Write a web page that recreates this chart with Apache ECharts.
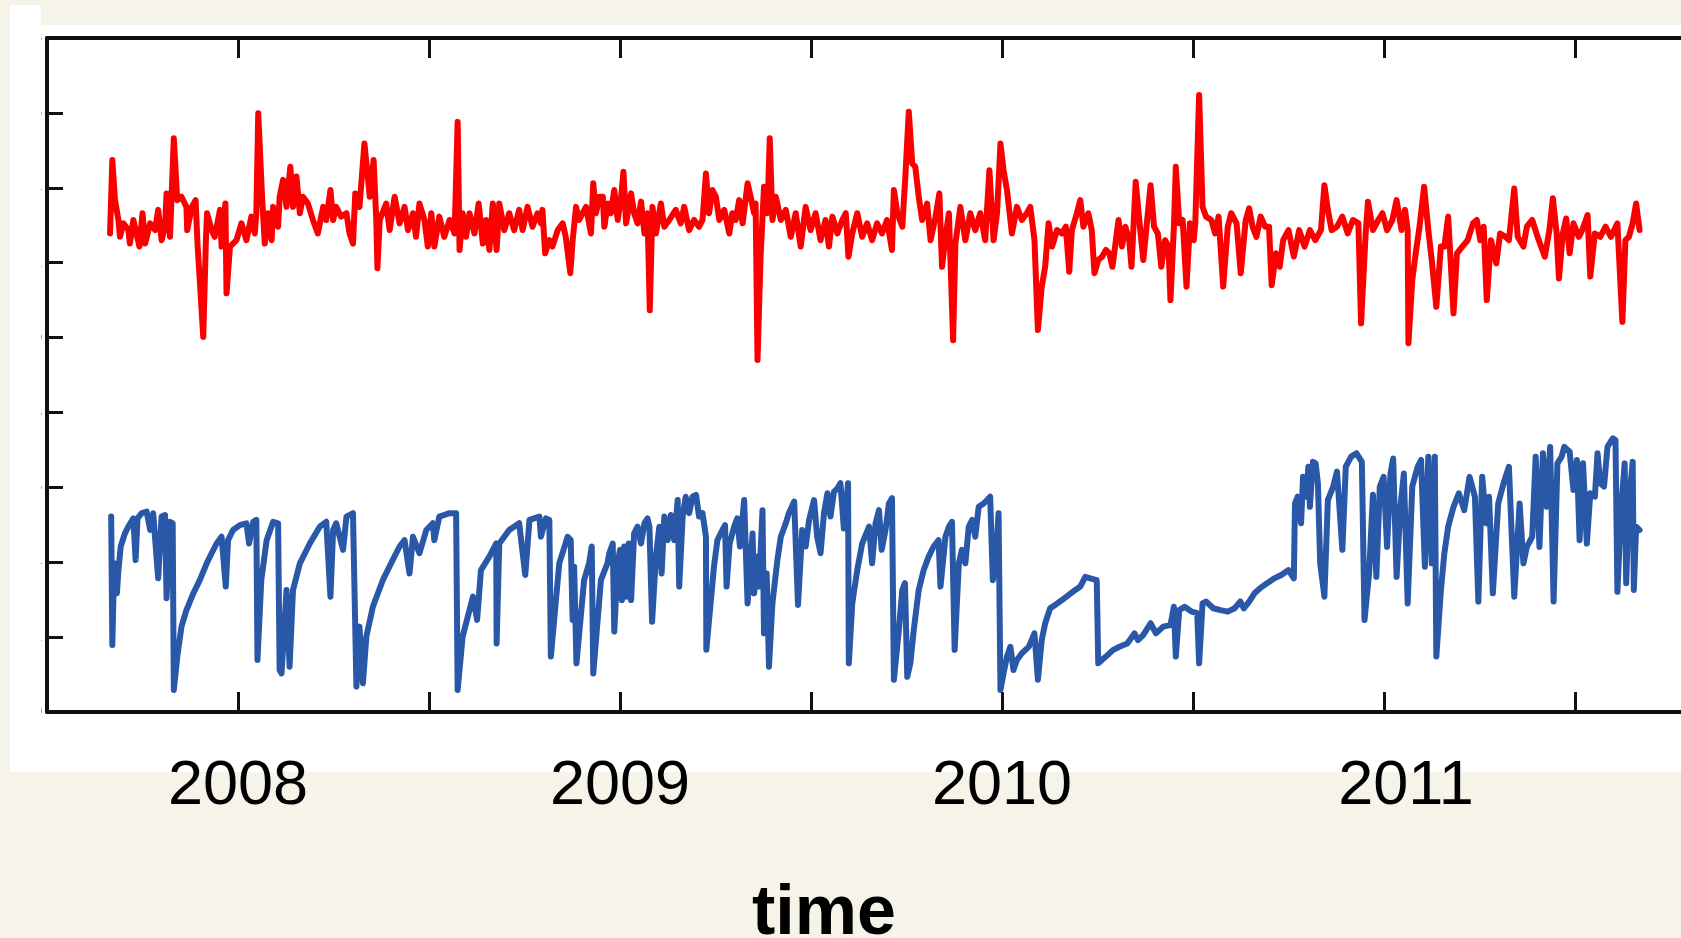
<!DOCTYPE html>
<html>
<head>
<meta charset="utf-8">
<title>time</title>
<script src="https://cdn.jsdelivr.net/npm/echarts@6/dist/echarts.min.js"></script>
<style>
  html, body { margin: 0; padding: 0; width: 1681px; height: 938px; overflow: hidden; background: #f6f3e8; }
  .panel { position: absolute; background: #fff; }
  #chart { position: absolute; left: 0; top: 0; width: 1681px; height: 938px; }
</style>
</head>
<body>
<div class="panel" style="left:10px;top:5px;width:31px;height:767px"></div>
<div class="panel" style="left:10px;top:25px;width:1671px;height:747px"></div>
<div id="chart"></div>
<script>
// year labels shown under the axis (half-year ticks carry no label)
var yearLabels = ['2008', '2009', '2010', '2011'];
var axisTitle = 'time';

// upper trace (red), [decimal year, value]
var redData = [
  [2007.665,12.78],[2007.671,14.74],[2007.678,13.67],[2007.687,13.14],[2007.691,12.69],[2007.700,13.05],[2007.713,12.87],[2007.717,12.51],
  [2007.726,13.14],[2007.742,12.43],[2007.750,13.32],[2007.757,12.51],[2007.770,13.05],[2007.783,12.87],[2007.791,13.41],[2007.800,12.60],
  [2007.809,12.96],[2007.813,13.85],[2007.822,12.69],[2007.832,15.32],[2007.841,13.67],[2007.852,13.76],[2007.865,13.49],[2007.867,12.87],
  [2007.879,13.49],[2007.889,13.67],[2007.894,12.51],[2007.909,10.02],[2007.916,12.60],[2007.919,13.32],[2007.931,12.87],[2007.939,12.69],
  [2007.953,13.41],[2007.957,12.43],[2007.967,13.58],[2007.970,11.18],[2007.979,12.43],[2007.996,12.60],[2008.009,13.05],[2008.022,12.60],
  [2008.035,13.23],[2008.044,12.78],[2008.048,13.32],[2008.053,15.99],[2008.063,13.76],[2008.070,12.51],[2008.079,13.32],[2008.088,12.60],
  [2008.092,13.49],[2008.105,12.96],[2008.109,13.76],[2008.118,14.21],[2008.127,13.49],[2008.137,14.56],[2008.144,13.49],[2008.153,14.30],
  [2008.162,13.32],[2008.170,13.76],[2008.183,13.58],[2008.196,13.14],[2008.209,12.78],[2008.223,13.49],[2008.231,13.14],[2008.242,13.94],
  [2008.249,13.14],[2008.257,13.49],[2008.270,13.23],[2008.284,13.32],[2008.292,12.78],[2008.301,12.51],[2008.307,13.85],[2008.318,13.49],
  [2008.331,15.18],[2008.345,13.76],[2008.355,14.74],[2008.362,13.14],[2008.365,11.85],[2008.371,13.14],[2008.388,13.58],[2008.397,12.87],
  [2008.410,13.76],[2008.423,13.05],[2008.436,13.49],[2008.445,12.87],[2008.458,13.32],[2008.466,12.69],[2008.475,13.58],[2008.488,13.14],
  [2008.497,12.43],[2008.506,13.32],[2008.514,12.43],[2008.527,13.23],[2008.540,12.69],[2008.554,13.14],[2008.567,12.78],[2008.575,15.76],
  [2008.580,12.34],[2008.588,13.32],[2008.597,12.69],[2008.606,13.32],[2008.619,12.78],[2008.630,13.58],[2008.641,12.51],[2008.649,13.14],
  [2008.658,12.34],[2008.667,13.58],[2008.677,12.34],[2008.684,13.58],[2008.697,12.87],[2008.710,13.32],[2008.723,12.87],[2008.736,13.41],
  [2008.745,12.87],[2008.758,13.49],[2008.771,12.96],[2008.784,13.32],[2008.793,13.05],[2008.797,13.41],[2008.804,12.25],[2008.815,12.60],
  [2008.823,12.43],[2008.837,12.87],[2008.850,13.05],[2008.858,12.69],[2008.870,11.72],[2008.876,12.60],[2008.885,13.49],[2008.893,13.14],
  [2008.911,13.49],[2008.924,12.78],[2008.930,14.12],[2008.937,13.32],[2008.946,13.76],[2008.955,13.76],[2008.959,12.96],[2008.968,13.58],
  [2008.976,13.32],[2008.985,13.94],[2008.994,13.14],[2009.003,13.76],[2009.009,14.43],[2009.016,13.05],[2009.029,13.85],[2009.037,13.32],
  [2009.046,13.05],[2009.055,13.63],[2009.064,12.78],[2009.072,13.32],[2009.078,10.73],[2009.085,13.49],[2009.094,12.78],[2009.107,13.58],
  [2009.116,12.96],[2009.129,13.14],[2009.146,13.41],[2009.159,13.05],[2009.168,13.49],[2009.181,12.87],[2009.194,13.14],[2009.207,12.96],
  [2009.216,13.14],[2009.225,14.38],[2009.233,13.32],[2009.242,13.94],[2009.251,13.76],[2009.260,13.14],[2009.273,13.41],[2009.286,12.78],
  [2009.294,13.32],[2009.303,13.14],[2009.312,13.67],[2009.321,13.05],[2009.334,14.12],[2009.342,13.76],[2009.351,13.32],[2009.355,13.58],
  [2009.360,9.40],[2009.368,12.16],[2009.377,14.03],[2009.386,13.32],[2009.392,15.32],[2009.399,13.14],[2009.408,13.76],[2009.421,13.14],
  [2009.434,13.41],[2009.447,12.69],[2009.460,13.32],[2009.473,12.43],[2009.486,13.49],[2009.499,12.87],[2009.512,13.32],[2009.525,12.60],
  [2009.538,13.14],[2009.547,12.43],[2009.556,13.23],[2009.569,12.78],[2009.582,13.14],[2009.591,13.32],[2009.598,12.16],[2009.608,12.78],
  [2009.621,13.32],[2009.634,12.69],[2009.647,13.05],[2009.660,12.60],[2009.673,13.05],[2009.686,12.78],[2009.699,13.14],[2009.712,12.34],
  [2009.717,13.94],[2009.726,13.32],[2009.739,12.96],[2009.747,14.30],[2009.756,16.03],[2009.765,14.65],[2009.773,14.56],[2009.782,13.76],
  [2009.791,13.14],[2009.804,13.58],[2009.813,12.60],[2009.826,13.23],[2009.836,13.85],[2009.843,11.89],[2009.852,12.69],[2009.861,13.32],
  [2009.872,9.93],[2009.878,12.51],[2009.891,13.49],[2009.904,12.60],[2009.917,13.32],[2009.930,12.87],[2009.943,13.32],[2009.956,12.60],
  [2009.967,14.47],[2009.978,12.60],[2009.987,13.32],[2009.996,15.18],[2010.004,14.47],[2010.013,13.94],[2010.026,12.78],[2010.039,13.49],
  [2010.052,13.14],[2010.065,13.32],[2010.074,13.49],[2010.085,12.60],[2010.094,10.20],[2010.104,11.36],[2010.113,11.89],[2010.122,13.05],
  [2010.131,12.43],[2010.144,12.87],[2010.157,12.78],[2010.167,12.96],[2010.176,11.76],[2010.183,12.87],[2010.196,13.32],[2010.205,13.67],
  [2010.213,12.96],[2010.226,13.32],[2010.235,12.87],[2010.242,11.72],[2010.252,12.07],[2010.262,12.16],[2010.272,12.34],[2010.281,12.25],
  [2010.289,11.89],[2010.295,12.34],[2010.305,13.14],[2010.314,12.43],[2010.323,12.96],[2010.333,12.60],[2010.339,11.89],[2010.350,14.16],
  [2010.361,12.96],[2010.370,12.07],[2010.380,13.14],[2010.389,14.07],[2010.398,12.96],[2010.408,12.78],[2010.417,11.89],[2010.427,12.60],
  [2010.436,12.43],[2010.441,11.00],[2010.450,12.96],[2010.455,14.56],[2010.464,13.05],[2010.473,13.14],[2010.483,11.36],[2010.492,13.05],
  [2010.502,12.60],[2010.506,13.05],[2010.516,16.48],[2010.525,13.49],[2010.534,13.23],[2010.548,13.14],[2010.558,12.78],[2010.567,13.23],
  [2010.579,11.36],[2010.591,12.96],[2010.600,13.32],[2010.614,13.05],[2010.625,11.72],[2010.638,13.14],[2010.647,13.45],[2010.656,12.96],
  [2010.666,12.69],[2010.677,13.23],[2010.689,12.96],[2010.699,12.96],[2010.706,11.40],[2010.717,12.25],[2010.727,11.89],[2010.736,12.60],
  [2010.750,12.87],[2010.764,12.16],[2010.778,12.87],[2010.792,12.43],[2010.806,12.87],[2010.820,12.60],[2010.835,12.87],[2010.844,14.07],
  [2010.853,13.41],[2010.863,12.87],[2010.877,12.96],[2010.891,13.23],[2010.905,12.78],[2010.919,13.14],[2010.933,13.05],[2010.940,10.38],
  [2010.952,12.78],[2010.958,13.63],[2010.971,12.87],[2010.985,13.14],[2010.996,13.32],[2011.008,12.87],[2011.022,13.14],[2011.033,13.67],
  [2011.046,12.87],[2011.055,13.41],[2011.062,12.87],[2011.064,9.85],[2011.074,11.54],[2011.083,12.25],[2011.093,12.96],[2011.105,14.03],
  [2011.116,12.87],[2011.125,12.07],[2011.137,10.82],[2011.149,12.43],[2011.158,12.43],[2011.168,13.23],[2011.182,10.65],[2011.191,12.25],
  [2011.205,12.43],[2011.219,12.60],[2011.233,13.05],[2011.243,13.14],[2011.252,12.60],[2011.261,12.96],[2011.269,11.00],[2011.280,12.60],
  [2011.294,11.98],[2011.304,12.78],[2011.318,12.69],[2011.327,12.60],[2011.341,13.98],[2011.350,12.69],[2011.365,12.43],[2011.374,12.96],
  [2011.388,13.14],[2011.402,12.69],[2011.421,12.16],[2011.433,12.87],[2011.442,13.72],[2011.452,12.78],[2011.458,11.58],[2011.468,12.78],
  [2011.477,13.18],[2011.486,12.25],[2011.496,13.05],[2011.510,12.69],[2011.519,12.87],[2011.533,13.27],[2011.540,11.63],[2011.552,12.78],
  [2011.566,12.69],[2011.580,12.96],[2011.594,12.69],[2011.611,13.05],[2011.624,10.42],[2011.632,12.60],[2011.641,12.69],[2011.651,13.05],
  [2011.660,13.58],[2011.669,12.87]
];

// lower trace (blue), [decimal year, value]
var blueData = [
  [2007.668,5.22],[2007.671,1.79],[2007.676,3.97],[2007.683,3.17],[2007.687,3.79],[2007.693,4.42],[2007.704,4.77],[2007.713,4.95],
  [2007.726,5.17],[2007.732,4.06],[2007.737,5.17],[2007.748,5.31],[2007.761,5.35],[2007.770,4.86],[2007.778,5.31],[2007.783,5.31],
  [2007.791,3.57],[2007.800,5.22],[2007.809,5.26],[2007.813,3.04],[2007.822,5.08],[2007.829,5.04],[2007.832,0.59],[2007.841,1.48],
  [2007.852,2.28],[2007.865,2.72],[2007.883,3.17],[2007.900,3.52],[2007.918,3.97],[2007.931,4.24],[2007.944,4.50],[2007.957,4.68],
  [2007.968,3.35],[2007.974,4.59],[2007.987,4.86],[2008.005,4.99],[2008.022,5.04],[2008.029,4.50],[2008.040,5.08],[2008.048,5.13],
  [2008.051,1.39],[2008.061,3.52],[2008.075,4.59],[2008.092,5.08],[2008.105,5.04],[2008.109,1.12],[2008.114,1.03],[2008.127,3.26],
  [2008.135,1.21],[2008.144,3.26],[2008.162,3.97],[2008.188,4.50],[2008.214,4.95],[2008.231,5.08],[2008.242,3.08],[2008.249,4.86],
  [2008.257,5.04],[2008.275,4.33],[2008.284,5.22],[2008.301,5.31],[2008.310,0.68],[2008.318,2.28],[2008.327,0.77],[2008.336,2.01],
  [2008.353,2.81],[2008.379,3.52],[2008.405,4.06],[2008.423,4.42],[2008.436,4.59],[2008.449,3.70],[2008.458,4.68],[2008.475,4.24],
  [2008.493,4.86],[2008.510,5.04],[2008.514,4.59],[2008.527,5.22],[2008.554,5.31],[2008.571,5.31],[2008.575,0.59],[2008.588,2.01],
  [2008.615,3.08],[2008.626,2.46],[2008.636,3.79],[2008.658,4.15],[2008.676,4.50],[2008.677,1.83],[2008.684,4.50],[2008.710,4.86],
  [2008.736,5.04],[2008.752,3.66],[2008.763,5.13],[2008.789,5.22],[2008.793,4.68],[2008.806,5.17],[2008.815,5.13],[2008.819,1.48],
  [2008.841,3.97],[2008.863,4.68],[2008.871,4.59],[2008.876,2.46],[2008.880,3.88],[2008.886,1.30],[2008.906,3.52],[2008.919,3.97],
  [2008.926,4.42],[2008.930,1.03],[2008.950,3.52],[2008.967,3.97],[2008.972,4.24],[2008.981,4.50],[2008.985,2.15],[2008.994,3.97],
  [2009.000,4.33],[2009.005,2.99],[2009.011,4.42],[2009.017,3.08],[2009.023,4.50],[2009.029,2.99],[2009.037,4.77],[2009.046,4.95],
  [2009.055,4.50],[2009.064,5.04],[2009.072,5.17],[2009.077,4.95],[2009.084,2.41],[2009.094,4.15],[2009.103,4.95],[2009.109,3.70],
  [2009.116,5.22],[2009.125,4.59],[2009.133,5.26],[2009.142,4.59],[2009.151,5.66],[2009.155,3.35],[2009.164,5.22],[2009.172,5.75],
  [2009.181,5.31],[2009.190,5.75],[2009.199,5.80],[2009.207,5.22],[2009.216,5.31],[2009.225,4.68],[2009.226,1.66],[2009.238,2.99],
  [2009.246,3.88],[2009.255,4.59],[2009.268,4.86],[2009.275,4.99],[2009.279,3.35],[2009.287,4.50],[2009.299,4.95],[2009.307,5.17],
  [2009.314,4.42],[2009.325,5.66],[2009.334,2.90],[2009.347,4.77],[2009.351,3.17],[2009.360,4.15],[2009.364,3.35],[2009.373,5.39],
  [2009.377,2.10],[2009.384,3.70],[2009.390,1.21],[2009.399,2.90],[2009.412,4.06],[2009.421,4.68],[2009.434,5.04],[2009.442,5.31],
  [2009.456,5.62],[2009.466,2.86],[2009.477,4.86],[2009.486,4.42],[2009.495,5.13],[2009.508,5.66],[2009.516,4.68],[2009.525,4.24],
  [2009.534,5.31],[2009.543,5.84],[2009.551,5.22],[2009.560,5.88],[2009.569,5.97],[2009.577,6.11],[2009.586,4.90],[2009.597,6.11],
  [2009.599,1.30],[2009.608,2.90],[2009.621,3.79],[2009.634,4.50],[2009.652,4.95],[2009.660,3.97],[2009.669,5.04],[2009.678,5.39],
  [2009.685,4.33],[2009.695,4.86],[2009.704,5.57],[2009.712,5.71],[2009.717,0.86],[2009.730,2.19],[2009.739,3.26],[2009.746,3.44],
  [2009.752,0.94],[2009.760,1.30],[2009.769,2.19],[2009.782,3.26],[2009.795,3.79],[2009.808,4.15],[2009.821,4.42],[2009.834,4.59],
  [2009.839,3.35],[2009.852,4.68],[2009.861,4.95],[2009.869,5.08],[2009.876,1.66],[2009.887,3.97],[2009.895,4.33],[2009.904,3.97],
  [2009.913,4.95],[2009.922,5.13],[2009.930,4.68],[2009.939,5.48],[2009.952,5.57],[2009.961,5.66],[2009.969,5.75],[2009.976,3.52],
  [2009.983,3.97],[2009.991,5.31],[2009.996,0.59],[2010.004,1.03],[2010.013,1.48],[2010.022,1.74],[2010.030,1.12],[2010.039,1.39],
  [2010.052,1.57],[2010.070,1.74],[2010.085,2.10],[2010.094,0.86],[2010.104,1.92],[2010.113,2.37],[2010.126,2.77],[2010.139,2.86],
  [2010.157,2.99],[2010.174,3.12],[2010.192,3.26],[2010.205,3.35],[2010.218,3.61],[2010.231,3.57],[2010.248,3.52],[2010.252,1.30],
  [2010.272,1.48],[2010.291,1.66],[2010.309,1.75],[2010.328,1.83],[2010.347,2.10],[2010.356,1.92],[2010.370,2.06],[2010.389,2.37],
  [2010.403,2.10],[2010.422,2.28],[2010.441,2.32],[2010.450,2.81],[2010.455,1.48],[2010.464,2.72],[2010.478,2.81],[2010.497,2.68],
  [2010.511,2.64],[2010.516,1.30],[2010.525,2.90],[2010.534,2.95],[2010.553,2.77],[2010.572,2.72],[2010.591,2.68],[2010.609,2.77],
  [2010.624,2.95],[2010.633,2.77],[2010.647,2.95],[2010.661,3.17],[2010.675,3.30],[2010.694,3.44],[2010.713,3.57],[2010.731,3.66],
  [2010.750,3.79],[2010.764,3.57],[2010.767,5.57],[2010.774,5.75],[2010.783,5.04],[2010.788,6.28],[2010.797,5.75],[2010.802,6.55],
  [2010.806,5.48],[2010.814,6.68],[2010.821,6.64],[2010.827,6.11],[2010.833,3.97],[2010.844,3.08],[2010.853,5.66],[2010.867,6.02],
  [2010.877,6.42],[2010.891,4.33],[2010.900,6.55],[2010.914,6.82],[2010.928,6.91],[2010.942,6.68],[2010.949,2.46],[2010.961,3.70],
  [2010.971,5.80],[2010.980,3.61],[2010.989,6.02],[2010.999,6.28],[2011.008,4.41],[2011.017,6.37],[2011.024,6.77],[2011.033,3.61],
  [2011.043,5.48],[2011.052,6.37],[2011.062,2.90],[2011.074,6.02],[2011.088,6.55],[2011.097,6.73],[2011.107,3.88],[2011.116,6.82],
  [2011.125,3.97],[2011.133,6.82],[2011.137,1.48],[2011.149,3.26],[2011.158,4.24],[2011.168,4.95],[2011.182,5.48],[2011.196,5.84],
  [2011.210,5.39],[2011.224,6.28],[2011.238,5.75],[2011.247,2.95],[2011.257,6.28],[2011.268,5.04],[2011.275,5.75],[2011.285,3.17],
  [2011.299,5.57],[2011.313,6.11],[2011.327,6.55],[2011.341,3.08],[2011.355,5.57],[2011.365,3.97],[2011.374,4.41],[2011.388,4.68],
  [2011.397,6.82],[2011.407,4.41],[2011.416,6.91],[2011.426,5.48],[2011.435,7.08],[2011.444,2.95],[2011.454,6.64],[2011.465,6.82],
  [2011.472,7.08],[2011.486,6.95],[2011.496,5.93],[2011.505,6.73],[2011.512,4.59],[2011.521,6.64],[2011.531,4.50],[2011.540,5.84],
  [2011.552,5.75],[2011.559,6.91],[2011.566,6.11],[2011.576,6.02],[2011.585,7.08],[2011.599,7.31],[2011.606,7.26],[2011.611,3.21],
  [2011.621,5.48],[2011.630,6.64],[2011.634,3.44],[2011.641,5.57],[2011.651,6.68],[2011.654,3.26],[2011.660,4.95],[2011.669,4.86]
];

var axisColor = '#111';
var chart = echarts.init(document.getElementById('chart'), null, {renderer: 'canvas'});

var xAxisBase = {
    type: 'value',
    min: 2007.5,
    max: 2012,
    interval: 0.5,
    splitLine: {show: false},
    axisLine: {show: true, lineStyle: {color: axisColor, width: 4}},
    axisTick: {show: true, inside: true, length: 20, lineStyle: {color: axisColor, width: 3}}
};

var option = {
    animation: false,
    backgroundColor: 'transparent',
    grid: {left: 47, top: 38, right: -85, bottom: 226, containLabel: false, outerBoundsMode: 'none'},
    xAxis: [
        echarts.util.merge({
            position: 'bottom',
            axisLabel: {
                show: true,
                margin: 43,
                fontSize: 63,
                fontFamily: 'Liberation Sans, Arial, sans-serif',
                color: '#000',
                formatter: function (v) {
                    var s = String(Math.round(v));
                    if (Math.abs(v - Math.round(v)) > 1e-6 || yearLabels.indexOf(s) < 0) return '';
                    // the last year label sits a little right of its tick in the original
                    return s === '2011' ? '{late|' + s + '}' : s;
                },
                rich: {
                    late: {fontSize: 63, fontFamily: 'Liberation Sans, Arial, sans-serif', color: '#000', padding: [0, 0, 0, 44]}
                }
            }
        }, xAxisBase, false),
        echarts.util.merge({
            position: 'top',
            axisLabel: {show: false}
        }, xAxisBase, false)
    ],
    yAxis: {
        type: 'value',
        min: 0,
        max: 18,
        interval: 2,
        splitLine: {show: false},
        axisLine: {show: true, lineStyle: {color: axisColor, width: 4}},
        axisTick: {show: true, inside: true, length: 16, lineStyle: {color: axisColor, width: 3}},
        axisLabel: {margin: 5, fontSize: 15, color: '#222', fontFamily: 'Liberation Sans, Arial, sans-serif'}
    },
    series: [
        {
            type: 'line',
            xAxisIndex: 0,
            data: redData,
            showSymbol: false,
            lineStyle: {color: '#fa0000', width: 6, join: 'round', cap: 'round'},
            z: 3
        },
        {
            type: 'line',
            xAxisIndex: 0,
            data: blueData,
            showSymbol: false,
            lineStyle: {color: '#2a58a8', width: 6, join: 'round', cap: 'round'},
            z: 3
        }
    ],
    graphic: [
        // the original picture is cropped through its tick labels; hide all but their last sliver
        {type: 'rect', z: 100, shape: {x: 10, y: 5, width: 31, height: 767}, style: {fill: '#fff'}},
        {
            type: 'text', z: 100,
            style: {
                text: axisTitle, x: 824, y: 950, align: 'center', verticalAlign: 'bottom',
                font: 'bold 70px "Liberation Sans", Arial, sans-serif', fill: '#000'
            }
        }
    ]
};

chart.setOption(option);
</script>
</body>
</html>
